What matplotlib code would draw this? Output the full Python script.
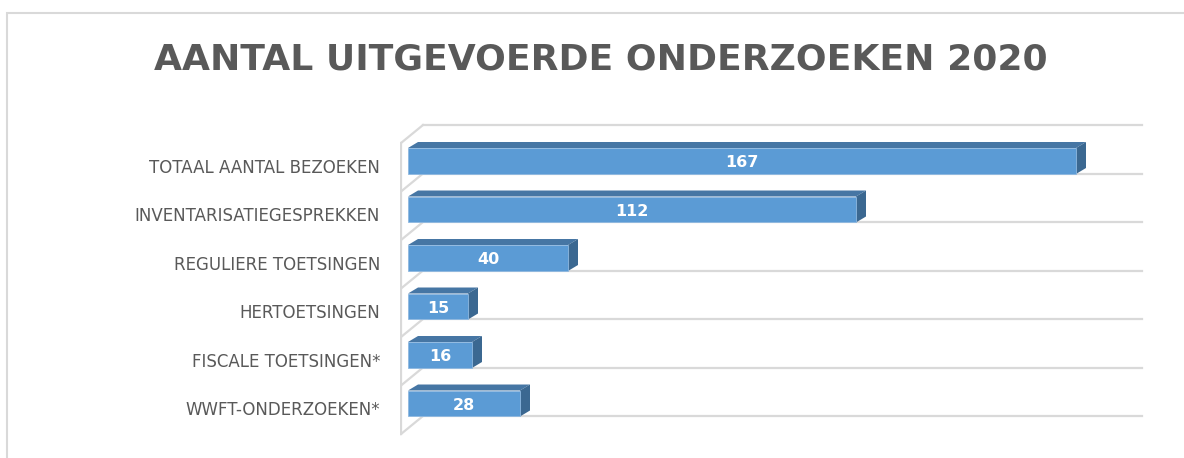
import matplotlib
matplotlib.use("Agg")
import matplotlib.pyplot as plt
from matplotlib.patches import Polygon, Rectangle

plt.rcParams['font.family'] = ['DejaVu Sans']

categories = ["TOTAAL AANTAL BEZOEKEN", "INVENTARISATIEGESPREKKEN",
              "REGULIERE TOETSINGEN", "HERTOETSINGEN",
              "FISCALE TOETSINGEN*", "WWFT-ONDERZOEKEN*"]
values = [167, 112, 40, 15, 16, 28]
title = "AANTAL UITGEVOERDE ONDERZOEKEN 2020"

W, H = 1184, 458
fig = plt.figure(figsize=(W / 100, H / 100), dpi=100)

# chart frame (runs off the right/bottom edge like the screenshot)
fig.patches.append(Rectangle((7 / W, -0.1), 1.2, 1 - 13 / H + 0.1, transform=fig.transFigure,
                             fill=False, edgecolor='#d9d9d9', linewidth=1.5))

ax = fig.add_axes([400 / W, 1 - 440 / H, 750 / W, 320 / H])
ax.set_xlim(-2, 185.5)
ax.set_ylim(5.7526, -0.8454)
ax.axis('off')

grid_c = '#d9d9d9'
x_front, x_back, x_end = -1.75, 3.75, 183.5
n = len(categories)
for k in range(n + 1):
    yb = -0.742 + k
    ax.plot([x_back, x_end], [yb, yb], color=grid_c, lw=1.6, zorder=1)
    ax.plot([x_front, x_back], [yb + 0.371, yb], color=grid_c, lw=1.6, zorder=1)
ax.plot([x_front, x_front], [-0.371, n - 0.371], color=grid_c, lw=1.6, zorder=1)

# pseudo-3D bars
h = 0.268
dx, dy = 2.5, -0.1237
for i, v in enumerate(values):
    top, bot = i - h, i + h
    ax.add_patch(Polygon([(0, top), (v, top), (v + dx, top + dy), (dx, top + dy)],
                         closed=True, facecolor='#4676a4', edgecolor='none', zorder=3))
    ax.add_patch(Polygon([(v, top), (v + dx, top + dy), (v + dx, bot + dy), (v, bot)],
                         closed=True, facecolor='#3b6891', edgecolor='none', zorder=3))
    ax.add_patch(Rectangle((0, top), v, 2 * h, facecolor='#5b9bd5',
                           edgecolor='#8fb8e0', linewidth=0.6, zorder=4))
    ax.text(v / 2, i + 0.04, str(v), ha='center', va='center', color='white',
            fontsize=11.5, fontweight='bold', zorder=5)
    ax.text(-7, i + 0.144, categories[i], ha='right', va='center', color='#595959',
            fontsize=12, clip_on=False)

fig.text(601 / W, 1 - 60 / H, title, ha='center', va='center', color='#595959',
         fontsize=26, fontweight='bold')

fig.savefig('out.png', dpi=100)
